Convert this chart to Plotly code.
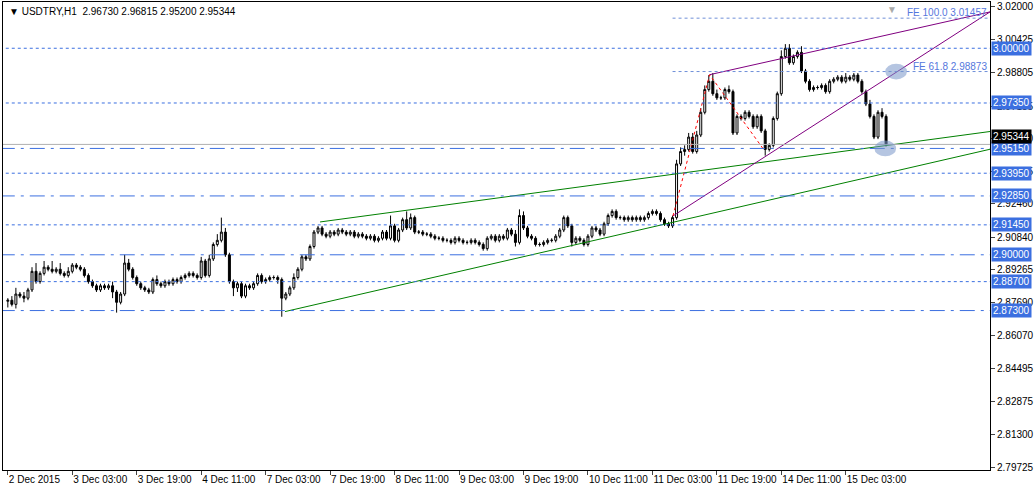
import plotly.graph_objects as go

closes = [
2.878,2.876,2.881,2.880,2.879,2.883,2.892,2.887,2.891,2.894,
2.893,2.892,2.893,2.891,2.890,2.892,2.895,2.894,2.893,2.890,
2.887,2.885,2.883,2.885,2.884,2.885,2.882,2.877,2.881,2.896,
2.893,2.889,2.886,2.884,2.883,2.882,2.888,2.886,2.885,2.887,
2.886,2.888,2.887,2.889,2.890,2.891,2.890,2.889,2.897,2.890,
2.898,2.905,2.907,2.911,2.900,2.887,2.884,2.886,2.880,2.885,
2.884,2.886,2.890,2.887,2.888,2.889,2.889,2.888,2.879,2.881,
2.884,2.889,2.893,2.899,2.898,2.904,2.911,2.913,2.910,2.909,
2.911,2.910,2.912,2.911,2.910,2.911,2.909,2.910,2.909,2.908,
2.909,2.907,2.908,2.911,2.908,2.914,2.907,2.912,2.917,2.913,
2.918,2.911,2.911,2.910,2.910,2.909,2.908,2.908,2.907,2.907,
2.906,2.908,2.907,2.906,2.906,2.907,2.906,2.905,2.903,2.908,
2.909,2.907,2.909,2.908,2.912,2.910,2.906,2.919,2.913,2.909,
2.908,2.905,2.905,2.906,2.907,2.907,2.909,2.912,2.918,2.914,
2.906,2.908,2.907,2.905,2.909,2.913,2.912,2.910,2.915,2.919,
2.921,2.918,2.918,2.917,2.918,2.917,2.918,2.917,2.918,2.920,
2.921,2.920,2.917,2.915,2.914,2.918,2.944,2.950,2.951,2.957,
2.950,2.958,2.969,2.980,2.984,2.978,2.976,2.976,2.980,2.979,
2.959,2.967,2.966,2.969,2.967,2.962,2.967,2.960,2.951,2.953,
2.966,2.978,2.996,3.000,2.993,2.996,2.998,2.989,2.984,2.980,
2.981,2.981,2.982,2.979,2.984,2.985,2.986,2.984,2.986,2.985,
2.987,2.984,2.979,2.973,2.967,2.957,2.969,2.967,2.95344]
first_open = 2.8775
# wick extents in 0.001 units, one digit per bar
wick_hi = ("1231212413" "1413121111" "1111112114" "2111111211" "1111111121"
           "2137211111" "1111111111" "1211111111" "1111111111" "1111151114"
           "2111111111" "1111111111" "1111112321" "1111111111" "1111111111"
           "1111111111" "1111112222" "2222342112" "1111111111" "1132211311"
           "1111111121" "1111211213")
wick_lo = ("3121211111" "1111111111" "1111113511" "1111111111" "1111111111"
           "1111114211" "1111111291" "1111111111" "1111111111" "1111111111"
           "1111111111" "1111111111" "1111112111" "1111111111" "2111111111"
           "1111111111" "1111111121" "1111111111" "1111111131" "1111111111"
           "1111111111" "1111111111")

tick_labels = ["2 Dec 2015", "3 Dec 03:00", "3 Dec 19:00", "4 Dec 11:00", "7 Dec 03:00",
               "7 Dec 19:00", "8 Dec 11:00", "9 Dec 03:00", "9 Dec 19:00", "10 Dec 11:00",
               "11 Dec 03:00", "11 Dec 19:00", "14 Dec 11:00", "15 Dec 03:00"]
tick_pos = [i * 16 for i in range(len(tick_labels))]

price_ticks = [3.02000, 3.00425, 2.98805, 2.97185, 2.95610, 2.94035, 2.92460, 2.90840,
               2.89265, 2.87690, 2.86070, 2.84495, 2.82875, 2.81300, 2.79725]
levels = [3.00000, 2.97350, 2.95150, 2.93950, 2.92850, 2.91450, 2.90000, 2.88700, 2.87300]
level_dash = ["dot", "dot", "longdashdot", "dot", "longdashdot", "dot", "longdashdot", "dot", "longdashdot"]
fe_levels = [3.01457, 2.98873]
fe_texts = ["FE 100.0 3.01457", "FE 61.8 2.98873"]
green_up = ([77.5, 243.8], [2.9159, 2.9597])
green_lo = ([68.8, 243.8], [2.8725, 2.9511])
purple_a = ([165.1, 243.8], [2.9188, 3.0176])
purple_b = ([174.2, 243.8], [2.9872, 3.0176])
red_pts = ([165.1, 174.2, 187.8], [2.9188, 2.9872, 2.9505])
bid = 2.95344

n = len(closes)
idx = list(range(n))
opens = [first_open] + closes[:-1]
highs = [max(o, c) + int(w) * 0.001 for o, c, w in zip(opens, closes, wick_hi)]
lows = [min(o, c) - int(w) * 0.001 for o, c, w in zip(opens, closes, wick_lo)]

fig = go.Figure()
BLUE = "#3b6fe0"
for lv, d in zip(levels, level_dash):
    fig.add_shape(type="line", xref="x", yref="y", x0=-2, x1=244, y0=lv, y1=lv,
                  line=dict(color=BLUE, width=1, dash=d))
for lv in fe_levels:
    fig.add_shape(type="line", xref="x", yref="y", x0=165, x1=244, y0=lv, y1=lv,
                  line=dict(color="#6f8fd8", width=1, dash="dot"))
fig.add_shape(type="line", x0=-2, x1=244, y0=bid, y1=bid, line=dict(color="#b0b0b0", width=1))

fig.add_trace(go.Candlestick(x=idx, open=opens, high=highs, low=lows, close=closes,
    increasing=dict(line=dict(color="black", width=1), fillcolor="white"),
    decreasing=dict(line=dict(color="black", width=1), fillcolor="black"),
    whiskerwidth=0, showlegend=False, hoverinfo="skip"))

for (xs, ys), col in [(green_up, "#008000"), (green_lo, "#008000"), (purple_a, "#800080"), (purple_b, "#800080")]:
    fig.add_trace(go.Scatter(x=xs, y=ys, mode="lines", line=dict(color=col, width=1), showlegend=False, hoverinfo="skip"))
fig.add_trace(go.Scatter(x=red_pts[0], y=red_pts[1], mode="lines", line=dict(color="red", width=1, dash="dot"), showlegend=False))

for cx, cy in [(220.5, 2.98873), (217.8, 2.9515)]:
    fig.add_shape(type="circle", x0=cx - 2.7, x1=cx + 2.7, y0=cy - 0.0038, y1=cy + 0.0038,
                  fillcolor="rgba(120,150,200,0.55)", line=dict(width=0))

for lv, t in zip(fe_levels, fe_texts):
    fig.add_annotation(x=243.5, y=lv, text=t, xanchor="right", yanchor="bottom", showarrow=False,
                       font=dict(color="#5577dd", size=10, family="Liberation Sans"), yshift=-2)

for lv in levels:
    fig.add_annotation(x=1, xref="paper", y=lv, text=f"{lv:.5f}", xanchor="left", showarrow=False,
                       bgcolor=BLUE, font=dict(color="white", size=10, family="Liberation Sans"), borderpad=1, xshift=1)
fig.add_annotation(x=1, xref="paper", y=bid, text=f"{bid:.5f}", xanchor="left", showarrow=False,
                   bgcolor="black", font=dict(color="white", size=10, family="Liberation Sans"), borderpad=1, xshift=1, yshift=8)

fig.add_annotation(x=0, y=1, xref="paper", yref="paper", xanchor="left", yanchor="top", showarrow=False,
                   text="▼ USDTRY,H1  2.96730 2.96815 2.95200 2.95344", xshift=4, yshift=-2,
                   font=dict(color="black", size=10, family="Liberation Sans"))
fig.add_annotation(x=219.5, y=1, xref="x", yref="paper", yanchor="top", showarrow=False, text="▼",
                   font=dict(color="#aaaaaa", size=10))

fig.update_layout(width=1036, height=492, margin=dict(l=3, r=46, t=2, b=22),
    paper_bgcolor="white", plot_bgcolor="white", font=dict(family="Liberation Sans", size=10, color="black"),
    xaxis=dict(range=[-1.2, 243.8], rangeslider=dict(visible=False), tickvals=tick_pos, ticktext=tick_labels,
               showgrid=False, zeroline=False, showline=True, linecolor="black", mirror=True,
               ticks="outside", ticklen=4, tickfont=dict(size=10), automargin=False, tickangle=0,
               ticklabelposition="outside right"),
    yaxis=dict(range=[2.7958, 3.0224], side="right", tickvals=price_ticks,
               ticktext=[f"{v:.5f}" for v in price_ticks], showgrid=False, zeroline=False, automargin=False,
               showline=True, linecolor="black", mirror=True, ticks="outside", ticklen=4, tickfont=dict(size=10)))
fig.write_html("out.html", post_script="document.body.style.margin='0';",
               config={"displayModeBar": False})
